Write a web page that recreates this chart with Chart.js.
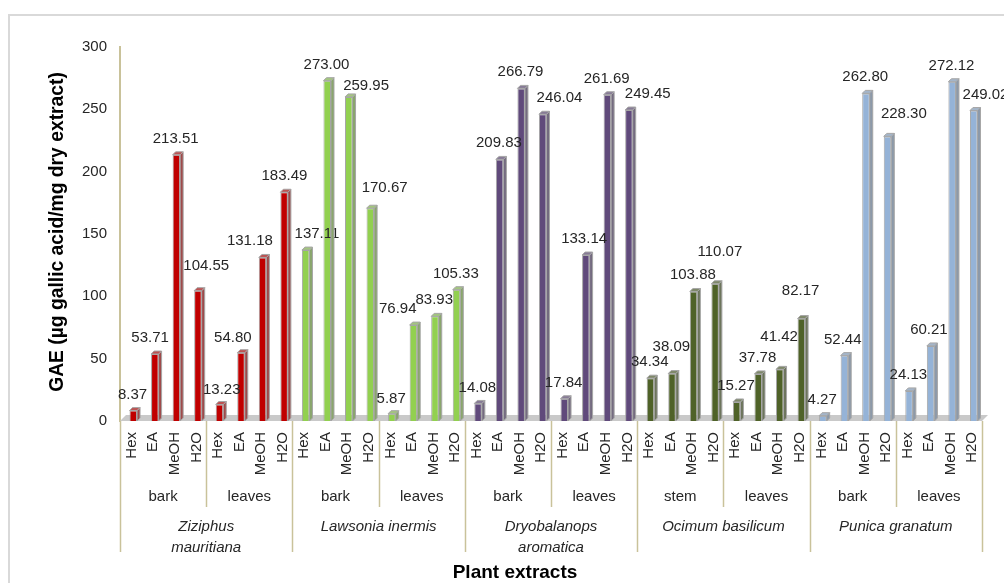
<!DOCTYPE html>
<html>
<head>
<meta charset="utf-8">
<script src="https://cdn.jsdelivr.net/npm/chart.js@4/dist/chart.umd.min.js"></script>
<style>
html,body{margin:0;padding:0;background:#fff;}
#wrap{position:relative;width:1004px;height:583px;}
canvas{display:block;}
</style>
</head>
<body>
<div id="wrap"><canvas id="c" width="1004" height="583"></canvas></div>
<script>
// ---- data ----
const solvents = ['Hex', 'EA', 'MeOH', 'H2O'];
const speciesNames = [['Ziziphus', 'mauritiana'], ['Lawsonia inermis'], ['Dryobalanops', 'aromatica'], ['Ocimum basilicum'], ['Punica granatum']];
const speciesParts = [['bark', 'leaves'], ['bark', 'leaves'], ['bark', 'leaves'], ['stem', 'leaves'], ['bark', 'leaves']];
const speciesColors = ['#C00000', '#92D050', '#604A7B', '#4F6228', '#95B3D7'];

const ziziphusBark = [8.37, 53.71, 213.51, 104.55];
const ziziphusLeaves = [13.23, 54.80, 131.18, 183.49];
const lawsoniaBark = [137.11, 273.00, 259.95, 170.67];
const lawsoniaLeaves = [5.87, 76.94, 83.93, 105.33];
const dryobalanopsBark = [14.08, 209.83, 266.79, 246.04];
const dryobalanopsLeaves = [17.84, 133.14, 261.69, 249.45];
const ocimumStem = [34.34, 38.09, 103.88, 110.07];
const ocimumLeaves = [15.27, 37.78, 41.42, 82.17];
const punicaBark = [4.27, 52.44, 262.80, 228.30];
const punicaLeaves = [24.13, 60.21, 272.12, 249.02];

const yTicks = [0, 50, 100, 150, 200, 250, 300];

// hand-placed value label nudges [dx, dy] in px (as moved in the original)
const labelNudges = [
  [0,0],[-4,0],[0,0],[9,-9],  [3,1.5],[-7.5,1],[-12,0],[1,0],
  [12,0],[0,0],[18,5],[15,-4.5],  [0,1],[-15,0],[0,0],[0,0],
  [0,1],[0,0],[0,0],[17.5,0],  [0,0],[-1,0],[0,0],[19.5,0],
  [0,0],[0,-11],[0,0],[5.5,-16],  [0,0],[0,0],[0,-16],[0,-11.5],
  [0,0],[-1,0],[0,0],[17,-6],  [0,0],[-1,0],[0,0],[12.5,0]
];

// ---- build ----
const groupValues = [
  [ziziphusBark, ziziphusLeaves],
  [lawsoniaBark, lawsoniaLeaves],
  [dryobalanopsBark, dryobalanopsLeaves],
  [ocimumStem, ocimumLeaves],
  [punicaBark, punicaLeaves]
];
const labels = [], values = [], colors = [];
groupValues.forEach((sp, si) => sp.forEach(part => part.forEach((v, k) => {
  labels.push(solvents[k]); values.push(v); colors.push(speciesColors[si]);
})));

function mix(hex, f, g) {
  const n = parseInt(hex.slice(1), 16);
  let r = (n >> 16) & 255, gg = (n >> 8) & 255, b = n & 255;
  const k = v => Math.max(0, Math.min(255, Math.round(v * f * (1 - g) + 165 * g)));
  return `rgb(${k(r)},${k(gg)},${k(b)})`;
}

const DX = 3, DY = 3;
const TAN = '#C9C29A';
const SHIFT = 2.5;
const FONT = '"Liberation Sans", Arial, sans-serif';

const deco = {
  id: 'deco',
  afterLayout(chart) {
    const xs = chart.scales.x;
    xs.left += SHIFT; xs.right += SHIFT;
    xs.configure();
  },
  beforeDatasetsDraw(chart) {
    const ctx = chart.ctx, a = chart.chartArea;
    ctx.save();
    ctx.fillStyle = '#C9C9C9';
    ctx.beginPath();
    ctx.moveTo(a.left, a.bottom);
    ctx.lineTo(a.right, a.bottom);
    ctx.lineTo(a.right + 6, a.bottom - 6);
    ctx.lineTo(a.left + 6, a.bottom - 6);
    ctx.closePath();
    ctx.fill();
    ctx.restore();
  },
  afterDatasetsDraw(chart) {
    const ctx = chart.ctx;
    const meta = chart.getDatasetMeta(0);
    ctx.save();
    meta.data.forEach((bar, i) => {
      const w = bar.width, x0 = bar.x - w / 2, x1 = bar.x + w / 2, top = bar.y, bot = bar.base;
      const c = colors[i];
      ctx.strokeStyle = '#A6A6A6'; ctx.lineWidth = 1;
      ctx.fillStyle = mix(c, 0.8, 0.45);
      ctx.beginPath();
      ctx.moveTo(x1, top); ctx.lineTo(x1 + DX, top - DY); ctx.lineTo(x1 + DX, bot - DY); ctx.lineTo(x1, bot);
      ctx.closePath(); ctx.fill(); ctx.stroke();
      ctx.fillStyle = mix(c, 1.1, 0.5);
      ctx.beginPath();
      ctx.moveTo(x0, top); ctx.lineTo(x0 + DX, top - DY); ctx.lineTo(x1 + DX, top - DY); ctx.lineTo(x1, top);
      ctx.closePath(); ctx.fill(); ctx.stroke();
      const nd = labelNudges[i];
      ctx.fillStyle = '#262626';
      ctx.font = '15px ' + FONT;
      ctx.textAlign = 'center';
      ctx.textBaseline = 'alphabetic';
      ctx.fillText(values[i].toFixed(2), bar.x - 0.7 + nd[0], top - 12 + nd[1]);
    });
    ctx.restore();
  },
  afterDraw(chart) {
    const ctx = chart.ctx, a = chart.chartArea;
    const n = labels.length;
    const cw = (a.right - a.left) / n;
    ctx.save();
    ctx.fillStyle = '#262626';
    ctx.font = '15px ' + FONT;
    labels.forEach((l, i) => {
      const x = a.left + (i + 0.5) * cw + 1;
      ctx.save();
      ctx.translate(x, a.bottom + 11);
      ctx.rotate(-Math.PI / 2);
      ctx.textAlign = 'right';
      ctx.textBaseline = 'middle';
      ctx.fillText(l, 0, 0);
      ctx.restore();
    });
    ctx.strokeStyle = TAN; ctx.lineWidth = 1.5;
    for (let g = 0; g <= 10; g++) {
      const x = Math.round(a.left + g * 4 * cw) + 0.5;
      const long = g % 2 === 0;
      ctx.beginPath();
      ctx.moveTo(x, a.bottom);
      ctx.lineTo(x, long ? 552 : 507);
      ctx.stroke();
    }
    ctx.textAlign = 'center'; ctx.textBaseline = 'middle';
    speciesParts.forEach((parts, si) => parts.forEach((p, pi) => {
      const x = a.left + (si * 8 + pi * 4 + 2) * cw;
      ctx.fillText(p, x, 497);
    }));
    ctx.font = 'italic 15px ' + FONT;
    speciesNames.forEach((lines, si) => {
      const x = a.left + (si * 8 + 4) * cw;
      lines.forEach((t, li) => ctx.fillText(t, x, 527 + li * 21));
    });
    ctx.font = 'bold 19px ' + FONT;
    ctx.fillStyle = '#000';
    ctx.fillText('Plant extracts', 515, 573);
    ctx.save();
    ctx.translate(58, 232);
    ctx.rotate(-Math.PI / 2);
    ctx.font = 'bold 19.3px ' + FONT;
    ctx.fillText('GAE (µg gallic acid/mg dry extract)', 0, 0);
    ctx.restore();
    ctx.strokeStyle = '#D9D9D9'; ctx.lineWidth = 2;
    ctx.beginPath();
    ctx.moveTo(9, 583); ctx.lineTo(9, 15); ctx.lineTo(1004, 15);
    ctx.stroke();
    ctx.restore();
  }
};

new Chart(document.getElementById('c'), {
  type: 'bar',
  data: {
    labels: labels,
    datasets: [{
      data: values,
      backgroundColor: colors,
      borderColor: '#A6A6A6',
      borderWidth: 1,
      categoryPercentage: 1,
      barPercentage: 0.35
    }]
  },
  options: {
    responsive: false,
    animation: false,
    events: [],
    layout: { padding: { left: 0, right: 22, top: 47, bottom: 162 } },
    plugins: { legend: { display: false }, tooltip: { enabled: false } },
    scales: {
      x: { display: false },
      y: {
        min: 0, max: 300,
        afterBuildTicks: s => { s.ticks = yTicks.map(v => ({ value: v })); },
        afterFit: s => { s.width = 120; },
        grid: { display: false, drawTicks: false },
        border: { display: true, color: TAN, width: 2 },
        ticks: { padding: 13, color: '#262626', font: { size: 15, family: FONT } }
      }
    }
  },
  plugins: [deco]
});
</script>
</body>
</html>
